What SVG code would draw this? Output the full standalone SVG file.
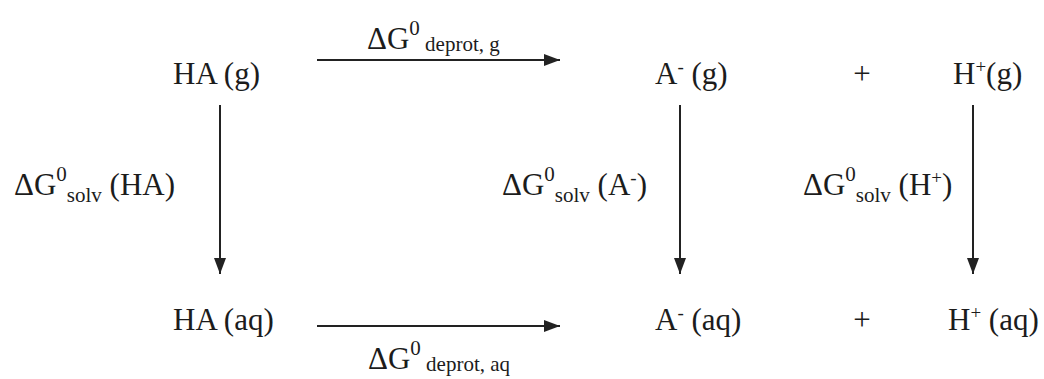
<svg xmlns="http://www.w3.org/2000/svg" width="1044" height="379" viewBox="0 0 1044 379">
<defs>
<marker id="ah" markerUnits="userSpaceOnUse" markerWidth="16" markerHeight="12" refX="16" refY="6" orient="auto">
<path d="M0,0 L16,6 L0,12 z" fill="#222"/>
</marker>
<style>
text{font-family:"Liberation Serif","Times New Roman",serif;font-size:31px;fill:#1c1c1c}
.s{font-size:21px}
.c{font-size:19px}
.ar{stroke:#222;stroke-width:2;fill:none;marker-end:url(#ah)}
</style>
</defs>
<rect width="1044" height="379" fill="#fff"/>
<g id="connectors">
<line class="ar" x1="317" y1="60" x2="560" y2="60"/>
<line class="ar" x1="317" y1="326" x2="560" y2="326"/>
<line class="ar" x1="220" y1="105" x2="220" y2="274"/>
<line class="ar" x1="680" y1="105" x2="680" y2="274"/>
<line class="ar" x1="973" y1="105" x2="973" y2="274"/>
</g>
<g id="label-deprot-g"><text x="367" y="49">ΔG<tspan class="s" dy="-14">0</tspan><tspan class="s" dy="16"> deprot, g</tspan></text></g>
<g id="label-deprot-aq"><text x="368" y="369">ΔG<tspan class="s" dy="-14">0</tspan><tspan class="s" dy="16"> deprot, aq</tspan></text></g>
<g id="label-solv-HA"><text x="14" y="195">ΔG<tspan class="s" dy="-14">0</tspan><tspan class="s" dy="21">solv</tspan><tspan dy="-7"> (HA)</tspan></text></g>
<g id="label-solv-A"><text x="502" y="195">ΔG<tspan class="s" dy="-14">0</tspan><tspan class="s" dy="21">solv</tspan><tspan dy="-7"> (A</tspan><tspan class="c" dy="-11">-</tspan><tspan dy="11">)</tspan></text></g>
<g id="label-solv-H"><text x="803" y="195">ΔG<tspan class="s" dy="-14">0</tspan><tspan class="s" dy="21">solv</tspan><tspan dy="-7"> (H</tspan><tspan class="c" dy="-11">+</tspan><tspan dy="11">)</tspan></text></g>
<g id="HA-g"><text x="173" y="84">HA (g)</text></g>
<g id="A-g"><text x="655" y="84">A<tspan class="c" dy="-11">-</tspan><tspan dy="11"> (g)</tspan></text></g>
<g id="plus-g"><text x="862" y="84" text-anchor="middle">+</text></g>
<g id="H-g"><text x="953" y="84">H<tspan class="c" dy="-11">+</tspan><tspan dy="11">(g)</tspan></text></g>
<g id="HA-aq"><text x="173" y="330">HA (aq)</text></g>
<g id="A-aq"><text x="655" y="330">A<tspan class="c" dy="-11">-</tspan><tspan dy="11"> (aq)</tspan></text></g>
<g id="plus-aq"><text x="862" y="330" text-anchor="middle">+</text></g>
<g id="H-aq"><text x="948" y="330">H<tspan class="c" dy="-11">+</tspan><tspan dy="11"> (aq)</tspan></text></g>
</svg>
